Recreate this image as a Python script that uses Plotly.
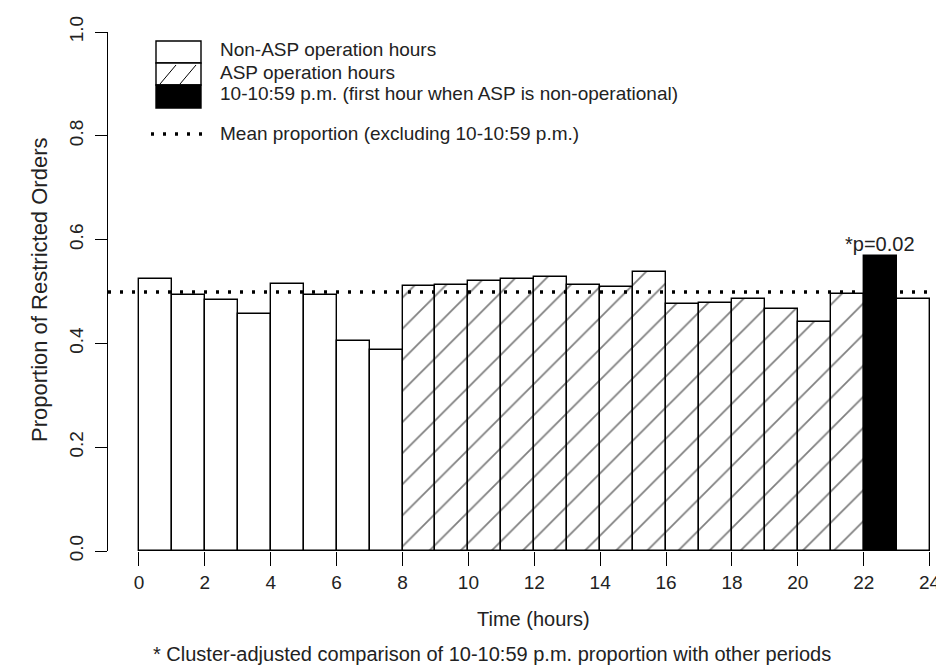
import plotly.graph_objects as go

# ---------------- data ----------------
hours = list(range(24))
proportion = [0.525, 0.493, 0.483, 0.456, 0.515, 0.493, 0.404, 0.387,
              0.510, 0.512, 0.520, 0.525, 0.527, 0.513, 0.509, 0.537,
              0.476, 0.477, 0.485, 0.466, 0.441, 0.495, 0.568, 0.486]
period = ["non"] * 8 + ["asp"] * 14 + ["ten"] + ["non"]
mean_proportion = 0.499
x_ticks = list(range(0, 25, 2))
y_ticks = [0.0, 0.2, 0.4, 0.6, 0.8, 1.0]
y_tick_labels = ["0.0", "0.2", "0.4", "0.6", "0.8", "1.0"]
legend_labels = ["Non-ASP operation hours", "ASP operation hours",
                 "10-10:59 p.m. (first hour when ASP is non-operational)",
                 "Mean proportion (excluding 10-10:59 p.m.)"]
p_label = "*p=0.02"
x_title = "Time (hours)"
y_title = "Proportion of Restricted Orders"
footnote = "* Cluster-adjusted comparison of 10-10:59 p.m. proportion with other periods"

FONT = "Liberation Sans, Arial, sans-serif"
TXT = "#222222"
FS = 20
W, H = 944, 669
L, R, T, B = 100, 944, 24, 543   # plot area in pixels


def px(x):
    return (x - L) / (R - L)


def py(y):
    return (B - y) / (B - T)


def sel(kind):
    xs = [h + 0.5 for h, p in zip(hours, period) if p == kind]
    ys = [v for v, p in zip(proportion, period) if p == kind]
    return xs, ys


fig = go.Figure()
line = dict(color="black", width=1.4)

xs, ys = sel("non")
fig.add_trace(go.Bar(x=xs, y=ys, width=1, marker=dict(color="white", line=line),
                     showlegend=False, hoverinfo="skip"))
xs, ys = sel("asp")
fig.add_trace(go.Bar(x=xs, y=ys, width=1,
                     marker=dict(color="white", line=line,
                                 pattern=dict(shape="/", fgcolor="black", bgcolor="white",
                                              size=22, solidity=0.08)),
                     showlegend=False, hoverinfo="skip"))
xs, ys = sel("ten")
fig.add_trace(go.Bar(x=xs, y=ys, width=1, marker=dict(color="black", line=line),
                     showlegend=False, hoverinfo="skip"))

# p-value annotation above the black bar
fig.add_annotation(x=xs[0], y=ys[0], text=p_label, showarrow=False, yanchor="bottom",
                   yshift=-1, font=dict(family=FONT, size=FS, color=TXT))

shapes = []
# mean line
shapes.append(dict(type="line", xref="paper", yref="y", x0=0, x1=1,
                   y0=mean_proportion, y1=mean_proportion,
                   line=dict(color="black", width=3.5, dash="3px,9px")))
# x baseline axis line from 0 to 24
shapes.append(dict(type="line", xref="x", yref="y", x0=x_ticks[0], x1=x_ticks[-1], y0=0, y1=0,
                   line=dict(color="black", width=1.5)))

# legend boxes
boxes = [(33, 55, "white"), (55, 77, "white"), (77, 100, "black")]
for (y0, y1, fill) in boxes:
    shapes.append(dict(type="rect", xref="paper", yref="paper",
                       x0=px(148), x1=px(193), y0=py(y1), y1=py(y0),
                       fillcolor=fill, line=dict(color="black", width=1.4)))
# hatch lines in the second legend box
for (a, b) in [(152, 168), (172, 188)]:
    shapes.append(dict(type="line", xref="paper", yref="paper",
                       x0=px(a), x1=px(b), y0=py(76), y1=py(57),
                       line=dict(color="black", width=1)))
# legend dotted line
shapes.append(dict(type="line", xref="paper", yref="paper",
                   x0=px(143), x1=px(196), y0=py(126), y1=py(126),
                   line=dict(color="black", width=3.5, dash="3px,9px")))

legend_y = [42, 64, 86, 125]
for lab, yy in zip(legend_labels, legend_y):
    fig.add_annotation(xref="paper", yref="paper", x=px(211), y=py(yy), text=lab,
                       showarrow=False, xanchor="left", yanchor="middle", borderpad=0,
                       font=dict(family=FONT, size=19, color=TXT))

# titles
fig.add_annotation(xref="paper", yref="paper", x=px(525), y=py(611), text=x_title,
                   showarrow=False, xanchor="center", yanchor="middle",
                   font=dict(family=FONT, size=FS, color=TXT))
fig.add_annotation(xref="paper", yref="paper", x=px(484), y=py(646), text=footnote,
                   showarrow=False, xanchor="center", yanchor="middle", borderpad=0,
                   font=dict(family=FONT, size=20, color=TXT))
fig.add_annotation(xref="paper", yref="paper", x=px(31), y=py(282), text=y_title,
                   showarrow=False, textangle=-90, xanchor="center", yanchor="middle",
                   font=dict(family=FONT, size=22, color=TXT))

fig.update_layout(
    width=W, height=H,
    margin=dict(l=L, r=W - R, t=T, b=H - B, pad=0),
    paper_bgcolor="white", plot_bgcolor="white",
    bargap=0, barmode="overlay",
    shapes=shapes,
    showlegend=False,
    font=dict(family=FONT, size=FS, color=TXT),
)
fig.update_xaxes(range=[-0.94, 24.68], tickvals=x_ticks, ticks="outside", ticklen=14,
                 tickwidth=1.4, tickcolor="black", showline=False, showgrid=False,
                 zeroline=False, tickfont=dict(family=FONT, size=19, color=TXT))
fig.update_yaxes(range=[0, 1], tickvals=y_ticks, ticktext=y_tick_labels, ticks="outside",
                 ticklen=12, tickwidth=1.4, tickcolor="black", showline=True,
                 linecolor="black", linewidth=1.4, showgrid=False, zeroline=False,
                 tickangle=-90, ticklabelstandoff=4,
                 tickfont=dict(family=FONT, size=19, color=TXT))

fig.write_html("out.html")
